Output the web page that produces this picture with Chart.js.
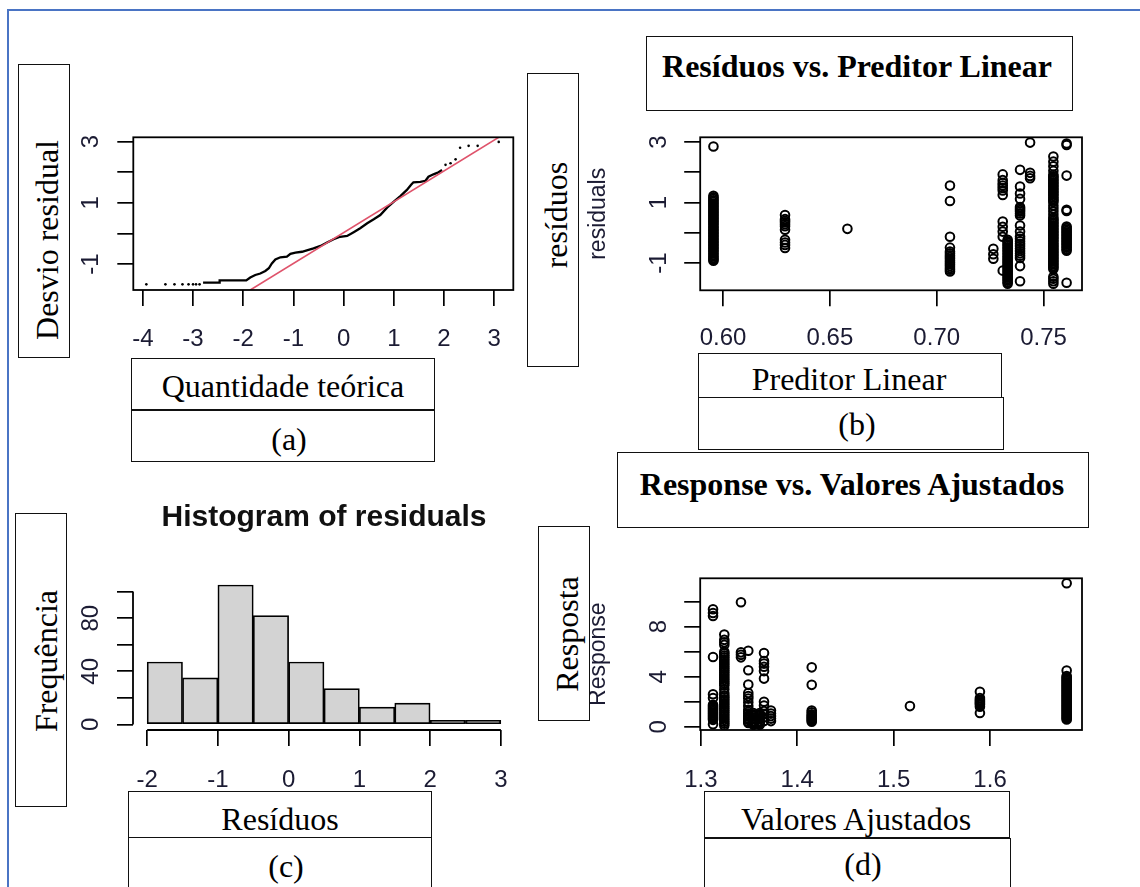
<!DOCTYPE html>
<html lang="pt">
<head>
<meta charset="utf-8">
<title>Diagnóstico dos resíduos</title>
<script src="https://cdn.jsdelivr.net/npm/chart.js@4.4.1/dist/chart.umd.min.js"></script>
<style>
  html, body { margin: 0; padding: 0; background: #fff; }
  #page { position: relative; width: 1140px; height: 887px; overflow: hidden; background: #fff; }
  .frame-top { position: absolute; left: 8px; top: 9px; width: 1132px; height: 2px; background: #4a74c4; }
  .frame-left { position: absolute; left: 7px; top: 9px; width: 2px; height: 878px; background: #4a74c4; }
  canvas { position: absolute; }
  .box { position: absolute; box-sizing: border-box; border: 1.5px solid #111; background: #fff; z-index: 2; }
  .txt { position: absolute; z-index: 3; font-family: "Liberation Serif", "Times New Roman", serif; font-size: 32px; line-height: 32px; white-space: nowrap; color: #000; }
  .txt.h { transform: translateX(-50%); }
  .txt.v { transform: translate(-50%, -50%) rotate(-90deg); }
  .txt.b { font-weight: bold; }
</style>
</head>
<body>
<div id="page">
  <div class="frame-top"></div>
  <div class="frame-left"></div>

  <canvas id="chartA"></canvas>
  <canvas id="chartB"></canvas>
  <canvas id="chartC"></canvas>
  <canvas id="chartD"></canvas>

  <!-- caixas de texto -->
  <div class="box" style="left:18px;top:64px;width:52px;height:294px"></div>
  <div class="txt v" style="left:47px;top:240px">Desvio residual</div>
  <div class="box" style="left:131px;top:358px;width:304px;height:52px"></div>
  <div class="txt h" style="left:283px;top:370px">Quantidade teórica</div>
  <div class="box" style="left:131px;top:410px;width:304px;height:52px"></div>
  <div class="txt h" style="left:289px;top:423px">(a)</div>

  <div class="box" style="left:527px;top:73px;width:52px;height:294px"></div>
  <div class="txt v" style="left:556px;top:215px">resíduos</div>
  <div class="box" style="left:646px;top:36px;width:427px;height:75px"></div>
  <div class="txt h b" style="left:857px;top:50px">Resíduos vs. Preditor Linear</div>
  <div class="box" style="left:698px;top:353px;width:304px;height:45px"></div>
  <div class="txt h" style="left:849px;top:363px">Preditor Linear</div>
  <div class="box" style="left:698px;top:397px;width:306px;height:53px"></div>
  <div class="txt h" style="left:857px;top:408px">(b)</div>

  <div class="box" style="left:15px;top:513px;width:52px;height:294px"></div>
  <div class="txt v" style="left:46px;top:661px">Frequência</div>
  <div class="box" style="left:128px;top:791px;width:304px;height:47px"></div>
  <div class="txt h" style="left:280px;top:803px">Resíduos</div>
  <div class="box" style="left:128px;top:837px;width:304px;height:60px"></div>
  <div class="txt h" style="left:286px;top:850px">(c)</div>

  <div class="box" style="left:617px;top:452px;width:472px;height:76px"></div>
  <div class="txt h b" style="left:852px;top:468px">Response vs. Valores Ajustados</div>
  <div class="box" style="left:538px;top:526px;width:52px;height:195px"></div>
  <div class="txt v" style="left:567px;top:634px">Resposta</div>
  <div class="box" style="left:704px;top:791px;width:306px;height:47px"></div>
  <div class="txt h" style="left:856px;top:803px">Valores Ajustados</div>
  <div class="box" style="left:704px;top:838px;width:307px;height:60px"></div>
  <div class="txt h" style="left:863px;top:848px">(d)</div>
</div>

<script>
// (a) QQ dos desvios residuais
const qqTailX = [-3.93, -3.55, -3.37, -3.21, -3.09, -3.00, -2.94, -2.87, 2.03, 2.13, 2.23, 2.32, 2.49, 2.67, 3.09];
const qqTailY = [-1.665, -1.665, -1.665, -1.665, -1.665, -1.665, -1.665, -1.665, 2.24, 2.29, 2.42, 2.80, 2.86, 2.86, 2.99];
const qqCurveX = [-2.80, -2.47, -2.47, -1.94, -1.86, -1.76, -1.66, -1.56, -1.49, -1.43, -1.36, -1.26, -1.13, -1.06,
  -0.96, -0.83, -0.70, -0.60, -0.46, -0.33, -0.20, -0.07, 0.07, 0.20, 0.33, 0.47, 0.60, 0.73, 0.87, 1.00,
  1.13, 1.26, 1.34, 1.39, 1.53, 1.63, 1.69, 1.79, 1.89, 1.96];
const qqCurveY = [-1.61, -1.61, -1.535, -1.535, -1.44, -1.36, -1.31, -1.23, -1.14, -0.98, -0.85, -0.78, -0.76, -0.67,
  -0.63, -0.60, -0.54, -0.49, -0.41, -0.30, -0.19, -0.11, -0.085, 0.04, 0.17, 0.33, 0.46, 0.60, 0.85, 1.04,
  1.22, 1.42, 1.58, 1.67, 1.68, 1.72, 1.85, 1.93, 2.00, 2.07];
const qqLineX = [-1.86, 3.09];
const qqLineY = [-1.85, 3.14];
const qqXTicks = [-4, -3, -2, -1, 0, 1, 2, 3];
const qqXLabels = ['-4', '-3', '-2', '-1', '0', '1', '2', '3'];
const residYTicks = [-1, 0, 1, 2, 3];
const residYLabels = ['-1', '', '1', '', '3'];

// (b) resíduos vs preditor linear
const predLevels = [0.5955, 0.6290, 0.6582, 0.7062, 0.7265, 0.7309, 0.7332, 0.7390, 0.7437, 0.7546, 0.7608];
const residByLevel = [
  [2.85, 1.22, 1.17, 1.12, 1.07, 1.02, 0.97, 0.92, 0.87, 0.82, 0.77, 0.72, 0.67, 0.62, 0.57, 0.52, 0.47, 0.42, 0.37,
   0.32, 0.27, 0.22, 0.17, 0.12, 0.07, 0.02, -0.03, -0.08, -0.13, -0.18, -0.23, -0.28, -0.33, -0.38, -0.43, -0.48,
   -0.53, -0.58, -0.63, -0.68, -0.73, -0.78, -0.83, -0.88, -0.92],
  [0.59, 0.45, 0.40, 0.35, 0.28, 0.22, 0.10, -0.23, -0.32, -0.40, -0.50],
  [0.13],
  [1.56, 1.05, -0.13, -0.49, -0.62, -0.68, -0.74, -0.80, -0.86, -0.92, -0.98, -1.04, -1.10, -1.16, -1.22, -1.28],
  [-0.53, -0.71, -0.86],
  [1.93, 1.74, 1.64, 1.56, 1.48, 1.40, 1.25, 0.37, 0.20, 0.04, -0.13, -1.25],
  [-0.23, -0.28, -0.33, -0.38, -0.43, -0.48, -0.53, -0.58, -0.63, -0.68, -0.73, -0.78, -0.83, -0.88, -0.93, -0.98,
   -1.03, -1.08, -1.13, -1.18, -1.23, -1.28, -1.33, -1.38, -1.43, -1.48, -1.53, -1.58, -1.63, -1.68],
  [2.08, 1.53, 1.30, 1.12, 0.85, 0.80, 0.75, 0.70, 0.64, 0.57, 0.24, 0.04, -0.12, -0.20, -0.28, -0.36, -0.44, -0.52,
   -0.60, -0.68, -0.76, -0.83, -1.10, -1.60],
  [2.98, 1.98, 1.88, 1.80],
  [2.52, 2.35, 2.20, 2.05, 1.92, 1.87, 1.82, 1.77, 1.72, 1.67, 1.62, 1.57, 1.52, 1.47, 1.42, 1.37, 1.32, 1.27, 1.22,
   1.17, 1.12, 1.07, 1.02, 0.90, 0.80, 0.70, 0.60, 0.50, 0.45, 0.40, 0.35, 0.30, 0.25, 0.20, 0.15, 0.10, 0.05, 0.00,
   -0.05, -0.10, -0.15, -0.20, -0.25, -0.30, -0.35, -0.40, -0.45, -0.50, -0.55, -0.60, -0.65, -0.70, -0.75, -0.80,
   -0.85, -0.90, -0.95, -1.00, -1.05, -1.10, -1.15, -1.20, -1.45, -1.52, -1.60, -1.68],
  [2.95, 2.90, 1.89, 0.76, 0.72, 0.21, 0.16, 0.11, 0.06, 0.01, -0.04, -0.09, -0.14, -0.19, -0.24, -0.29, -0.34, -0.39,
   -0.44, -0.49, -0.54, -0.59, -1.65]
];
const predXTicks = [0.60, 0.65, 0.70, 0.75];
const predXLabels = ['0.60', '0.65', '0.70', '0.75'];

// (c) histograma dos resíduos
const histBinLo = [-2, -1.5, -1, -0.5, 0, 0.5, 1, 1.5, 2, 2.5];
const histBinHi = [-1.5, -1, -0.5, 0, 0.5, 1, 1.5, 2, 2.5, 3];
const histCounts = [47, 35, 105, 82, 47, 27, 13, 16, 3, 3];
const histXTicks = [-2, -1, 0, 1, 2, 3];
const histXLabels = ['-2', '-1', '0', '1', '2', '3'];
const histYTicks = [0, 20, 40, 60, 80, 100];
const histYLabels = ['0', '', '40', '', '80', ''];

// (d) resposta vs valores ajustados
const fittedLevels = [1.3126, 1.3243, 1.3416, 1.3492, 1.3545, 1.3610, 1.3655, 1.3727, 1.4150, 1.5169, 1.5895, 1.6795];
const responseByLevel = [
  [9.40, 9.10, 8.85, 5.58, 2.60, 2.30, 1.75, 1.65, 1.55, 1.45, 1.35, 1.25, 1.15, 1.05, 0.95, 0.85, 0.75, 0.65, 0.55, 0.20],
  [7.38, 6.95, 6.75, 6.55, 6.00, 5.85, 5.70, 5.55, 5.40, 5.25, 5.10, 4.95, 4.80, 4.65, 4.50, 4.35, 4.20, 4.05, 3.90,
   3.75, 3.60, 3.45, 3.30, 3.00, 2.70, 2.50, 2.35, 2.20, 2.05, 1.90, 1.75, 1.60, 1.45, 1.30, 1.15, 1.00, 0.85, 0.70,
   0.55, 0.40, 0.25, 0.10],
  [9.95, 5.95, 5.75, 5.55],
  [6.08, 4.52, 3.37, 2.70, 2.45, 2.25, 1.95, 1.65, 1.35, 1.20, 1.05, 0.90, 0.80, 0.65, 0.55, 0.40, 0.30],
  [1.10, 0.95, 0.85, 0.70, 0.60, 0.45, 0.35, 0.25, 0.15],
  [1.10, 0.95, 0.85, 0.70, 0.60, 0.45, 0.35, 0.25, 0.15],
  [5.90, 5.25, 5.05, 4.80, 4.45, 3.85, 2.00, 1.70, 1.25, 1.00, 0.75, 0.45],
  [1.30, 1.05, 0.85, 0.65, 0.45],
  [4.75, 3.35, 1.30, 1.15, 1.00, 0.90, 0.80, 0.70, 0.60, 0.50, 0.40],
  [1.65],
  [2.80, 2.30, 2.15, 2.05, 1.95, 1.85, 1.75, 1.60, 1.10],
  [11.47, 4.50, 4.05, 3.95, 3.85, 3.75, 3.65, 3.55, 3.45, 3.35, 3.25, 3.15, 3.05, 2.95, 2.85, 2.75, 2.65, 2.55, 2.45,
   2.35, 2.25, 2.15, 2.05, 1.95, 1.85, 1.75, 1.65, 1.55, 1.45, 1.35, 1.25, 1.15, 1.05, 0.95, 0.85, 0.75, 0.65, 0.58]
];
const fitXTicks = [1.3, 1.4, 1.5, 1.6];
const fitXLabels = ['1.3', '1.4', '1.5', '1.6'];
const respYTicks = [0, 2, 4, 6, 8, 10];
const respYLabels = ['0', '', '4', '', '8', ''];

const inkColor = '#1b1b33';
const sansFamily = "'Liberation Sans', Arial, sans-serif";

// moldura do painel (box() do R) e eixos do histograma
const rFrame = {
    id: 'rFrame',
    afterDatasetsDraw(chart, args, opts) {
        const { ctx, chartArea: a } = chart;
        ctx.save();
        ctx.strokeStyle = '#000';
        ctx.lineWidth = 1.8;
        if (opts.box) {
            ctx.strokeRect(a.left, a.top, a.right - a.left, a.bottom - a.top);
        }
        if (opts.axes) {
            const xs = chart.scales.x, ys = chart.scales.y;
            const xt = xs.ticks, yt = ys.ticks;
            ctx.beginPath();
            ctx.moveTo(xs.getPixelForValue(xt[0].value), xs.top);
            ctx.lineTo(xs.getPixelForValue(xt[xt.length - 1].value), xs.top);
            ctx.moveTo(ys.right, ys.getPixelForValue(yt[0].value));
            ctx.lineTo(ys.right, ys.getPixelForValue(yt[yt.length - 1].value));
            ctx.stroke();
        }
        ctx.restore();
    }
};
Chart.register(rFrame);

function placeCanvas(id, area, yW, xH, padTop, padRight) {
    const el = document.getElementById(id);
    const left = Math.floor(area.l - yW);
    const top = Math.floor(area.t - padTop);
    const width = Math.ceil(area.r + padRight) - left;
    const height = Math.ceil(area.b + xH) - top;
    el.style.left = left + 'px';
    el.style.top = top + 'px';
    el.width = width;
    el.height = height;
    return {
        el,
        yW: area.l - left,
        xH: top + height - area.b,
        padTop: area.t - top,
        padRight: left + width - area.r
    };
}

function rAxis(horizontal, min, max, ticks, labels, size, pad, title) {
    const axis = {
        type: 'linear',
        min: min,
        max: max,
        bounds: 'data',
        offset: false,
        grid: { display: true, drawOnChartArea: false, drawTicks: true, tickLength: 16, color: '#000', lineWidth: 1.7, offset: false },
        border: { display: false },
        ticks: {
            font: { family: sansFamily, size: 24 },
            color: inkColor,
            padding: pad,
            autoSkip: false,
            minRotation: horizontal ? 0 : 90,
            maxRotation: horizontal ? 0 : 90,
            callback: (v, i) => labels[i]
        },
        afterBuildTicks: s => { s.ticks = ticks.map(v => ({ value: v })); },
        afterFit: s => {
            if (horizontal) s.height = size; else s.width = size;
            s.paddingTop = 0; s.paddingBottom = 0; s.paddingLeft = 0; s.paddingRight = 0;
        }
    };
    if (!horizontal) axis.ticks.crossAlign = 'center';
    if (title) {
        axis.title = { display: true, text: title, color: inkColor, font: { family: sansFamily, size: 23 }, padding: { top: 5, bottom: 0 } };
    }
    return axis;
}

function columns(levels, valuesByLevel) {
    const pts = [];
    levels.forEach((x, i) => valuesByLevel[i].forEach(y => pts.push({ x: x, y: y })));
    return pts;
}

function baseOptions(p, xAxis, yAxis, extraPlugins) {
    return {
        responsive: false,
        animation: false,
        events: [],
        layout: { padding: { top: p.padTop, right: p.padRight, left: 0, bottom: 0 } },
        plugins: Object.assign({ legend: { display: false }, tooltip: { enabled: false } }, extraPlugins),
        scales: { x: xAxis, y: yAxis }
    };
}

const circle = {
    showLine: false,
    pointStyle: 'circle',
    pointRadius: 4.3,
    pointBorderWidth: 2,
    pointBorderColor: '#000',
    pointBackgroundColor: 'rgba(0,0,0,0)'
};

// painel (a)
const pA = placeCanvas('chartA', { l: 133.3, t: 137.3, r: 513.3, b: 290 }, 63.3, 70, 10, 8);
new Chart(pA.el, {
    type: 'scatter',
    data: {
        datasets: [
            {
                data: qqLineX.map((x, i) => ({ x: x, y: qqLineY[i] })),
                showLine: true, borderColor: '#df536b', borderWidth: 1.6, pointRadius: 0
            },
            {
                data: qqCurveX.map((x, i) => ({ x: x, y: qqCurveY[i] })),
                showLine: true, borderColor: '#000', borderWidth: 2.3, pointRadius: 0
            },
            {
                data: qqTailX.map((x, i) => ({ x: x, y: qqTailY[i] })),
                pointRadius: 1.3, pointBorderWidth: 0, pointBackgroundColor: '#000'
            }
        ]
    },
    options: baseOptions(pA,
        rAxis(true, -4.19, 3.38, qqXTicks, qqXLabels, pA.xH, 18.6),
        rAxis(false, -1.85, 3.14, residYTicks, residYLabels, pA.yW, 15.6),
        { rFrame: { box: true } })
});

// painel (b)
const pB = placeCanvas('chartB', { l: 700.2, t: 137.3, r: 1082, b: 290.3 }, 120.2, 70, 10, 8);
new Chart(pB.el, {
    type: 'scatter',
    data: { datasets: [Object.assign({ data: columns(predLevels, residByLevel) }, circle)] },
    options: baseOptions(pB,
        rAxis(true, 0.5893, 0.768, predXTicks, predXLabels, pB.xH, 17.6),
        rAxis(false, -1.90, 3.155, residYTicks, residYLabels, pB.yW, 14.5, 'residuals'),
        { rFrame: { box: true } })
});

// painel (c)
const pC = placeCanvas('chartC', { l: 133, t: 579.4, r: 515, b: 730 }, 63, 70, 79.4, 8);
new Chart(pC.el, {
    type: 'bar',
    data: {
        datasets: [{
            data: histCounts.map((c, i) => ({ x: (histBinLo[i] + histBinHi[i]) / 2, y: c })),
            backgroundColor: '#d3d3d3',
            borderColor: '#000',
            borderWidth: 1.7,
            borderSkipped: false,
            barPercentage: 1,
            categoryPercentage: 1
        }]
    },
    options: Object.assign(baseOptions(pC,
        rAxis(true, -2.2, 3.2, histXTicks, histXLabels, pC.xH, 19.6),
        rAxis(false, -4.2, 109.2, histYTicks, histYLabels, pC.yW, 12.7),
        {
            rFrame: { axes: true },
            title: {
                display: true,
                text: 'Histogram of residuals',
                fullSize: false,
                color: '#111',
                font: { family: sansFamily, size: 30, weight: 'bold' },
                padding: { top: 0, bottom: pC.padTop - 36 }
            }
        }), { layout: { padding: { top: 0, right: pC.padRight, left: 0, bottom: 0 } } })
});

// painel (d)
const pD = placeCanvas('chartD', { l: 700.2, t: 578.3, r: 1082, b: 730 }, 120.2, 70, 10, 8);
new Chart(pD.el, {
    type: 'scatter',
    data: { datasets: [Object.assign({ data: columns(fittedLevels, responseByLevel) }, circle)] },
    options: baseOptions(pD,
        rAxis(true, 1.2993, 1.6954, fitXTicks, fitXLabels, pD.xH, 19.6),
        rAxis(false, -0.26, 11.87, respYTicks, respYLabels, pD.yW, 18.5, 'Response'),
        { rFrame: { box: true } })
});
</script>
</body>
</html>
